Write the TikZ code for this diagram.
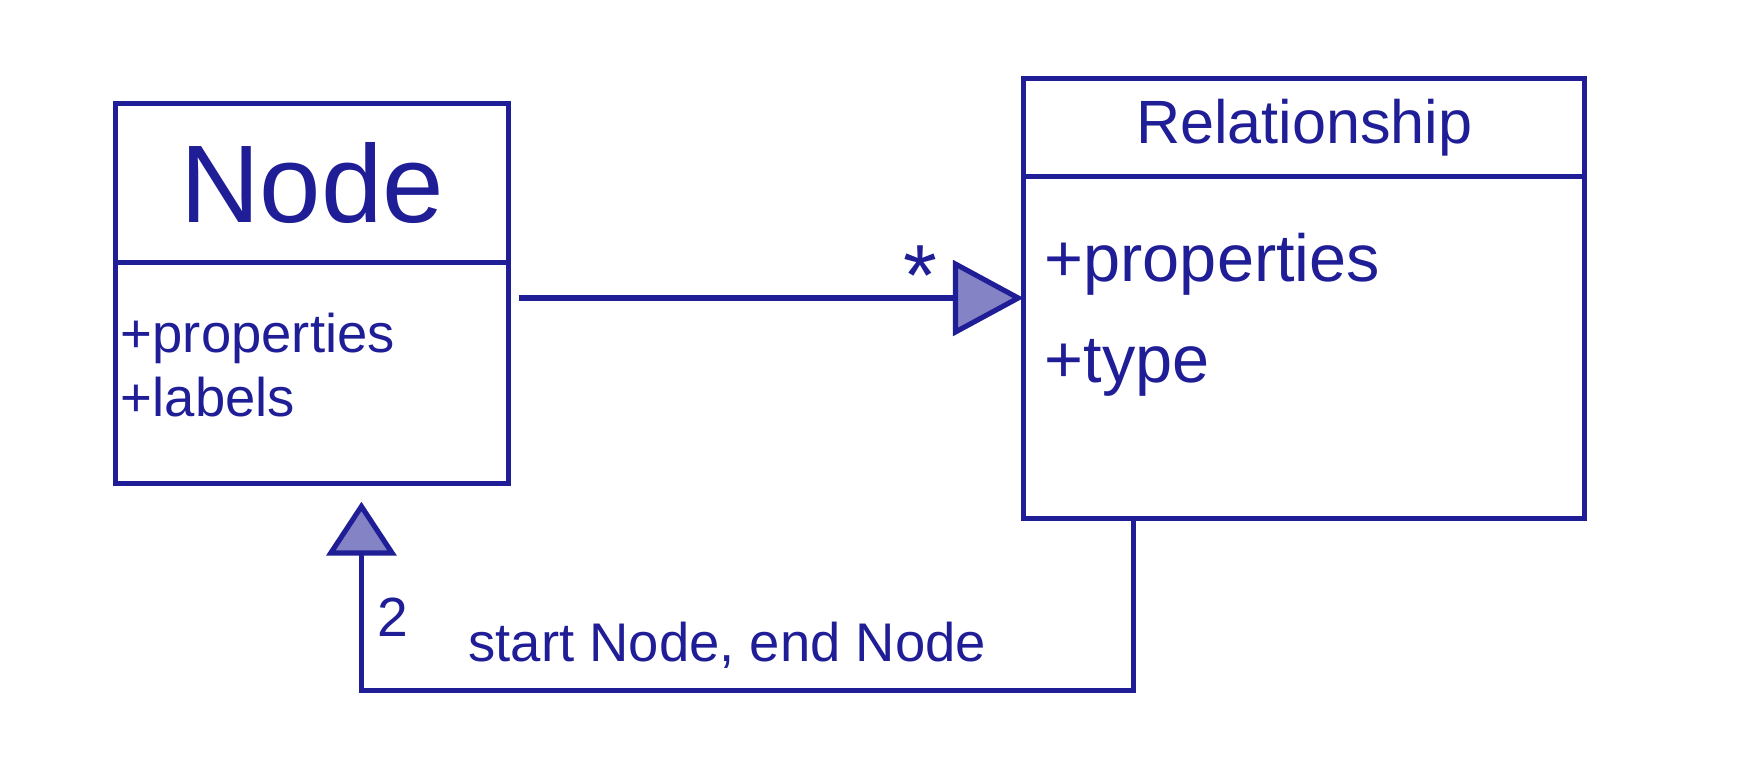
\documentclass[tikz,border=0pt]{standalone}
\usepackage{fontspec}
\setmainfont{Liberation Sans}
\usetikzlibrary{positioning,arrows.meta}
\definecolor{ink}{RGB}{32,30,150}

\begin{document}
\begin{tikzpicture}[
  compart/.style = {draw=ink, line width=1.3pt, inner sep=0pt, outer sep=0pt, text=ink},
  attr/.style = {text=ink, align=left, inner sep=0pt, anchor=north west},
  assoc/.style = {draw=ink, line width=1.3pt},
  lbl/.style = {text=ink, inner sep=0pt}
]
\useasboundingbox (0,0) rectangle (15.68,6.84);
% class Node
\node[compart, minimum width=3.5cm, minimum height=1.42cm, anchor=north west, font=\fontsize{28}{32}\selectfont] (nodeHead) at (1.03,5.92) {Node};
\node[compart, minimum width=3.5cm, minimum height=1.97cm, below=0pt of nodeHead] (nodeBody) {};
\node[attr, font=\fontsize{13.8}{16.2}\selectfont] (nodeAttr) at ([shift={(0.04,-0.44)}]nodeBody.north west) {+properties\\+labels};
% class Relationship
\node[compart, minimum width=5cm, minimum height=0.87cm, anchor=north west, font=\fontsize{15.5}{18}\selectfont] (relHead) at (9.12,6.14) {Relationship};
\node[compart, minimum width=5cm, minimum height=3.05cm, below=0pt of relHead] (relBody) {};
\node[attr, font=\fontsize{16.9}{25.5}\selectfont] (relAttr) at ([shift={(0.18,-0.50)}]relBody.north west) {+properties\\+type};
% associations
\coordinate (assocStart) at ([shift={(0.09,0.67)}]nodeBody.east);
\draw[assoc, -{Triangle[length=0.63cm, width=0.67cm, fill=ink!55]}] (assocStart) -- (assocStart -| relBody.west);
\draw[assoc, -{Triangle[length=0.48cm, width=0.62cm, fill=ink!55]}, shorten >=0.16cm] ([xshift=-1.52cm]relBody.south) -- ++(0,-1.53) -| ([xshift=0.44cm]nodeBody.south);
\node[lbl, font=\fontsize{22}{24}\selectfont] (multStar) at (8.20,4.38) {*};
\node[lbl, font=\fontsize{14}{16}\selectfont] (multTwo) at (3.50,1.34) {2};
\node[lbl, font=\fontsize{13.8}{16}\selectfont] (roleText) at (6.48,1.09) {start Node, end Node};
\end{tikzpicture}
\end{document}
